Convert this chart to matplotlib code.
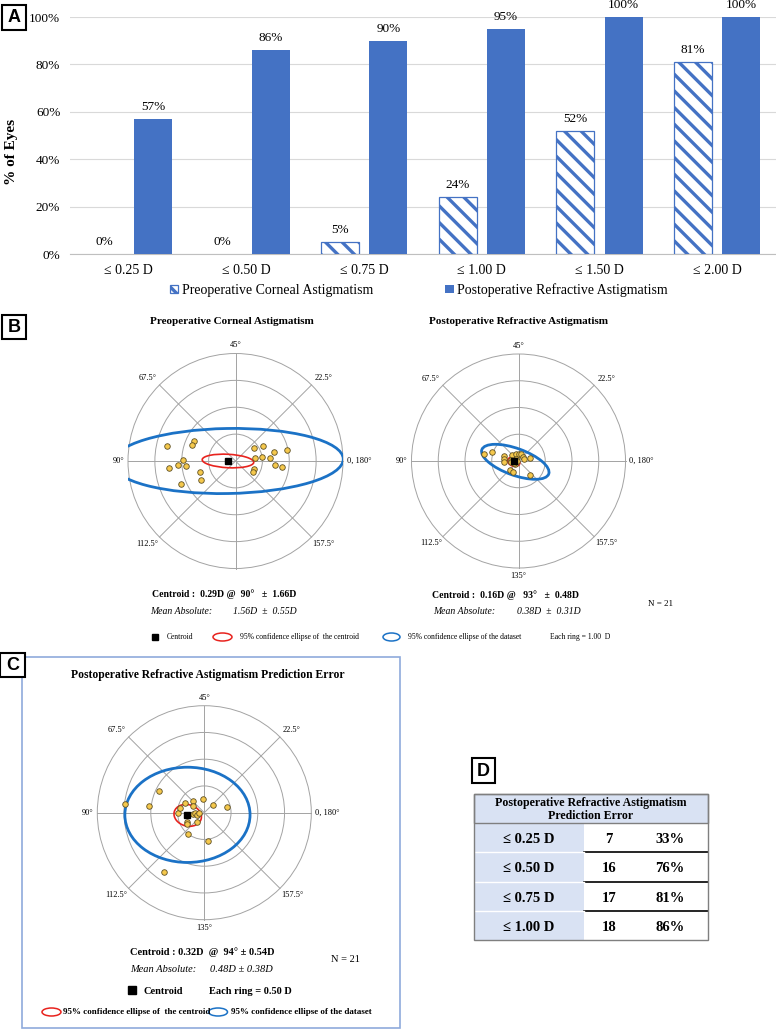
import numpy as np
import matplotlib
matplotlib.use("Agg")
import matplotlib.pyplot as plt
from matplotlib.patches import Rectangle, Circle, Ellipse

W, H = 776, 1030
BLUE = "#4472C4"
RED = "#E8231E"
ELL_BLUE = "#1B72C6"
GRID = "#a3a3a3"

# =============================================================================
# Data
# =============================================================================

# Panel A: cumulative % of eyes
CATEGORIES = ["≤ 0.25 D", "≤ 0.50 D", "≤ 0.75 D", "≤ 1.00 D", "≤ 1.50 D", "≤ 2.00 D"]
PREOP_PCT = [0, 0, 5, 24, 52, 81]
POSTOP_PCT = [57, 86, 90, 95, 100, 100]

# Panels B/C: double-angle vectors (x, y) in dioptres, one per eye
PRE_X = [-2.56, -1.54, -1.61, -2.47, -2.14, -1.96, -1.85, -1.32, -1.28, -2.03,
         0.68, 1.03, 1.43, 1.91, 0.72, 1.00, 1.30, 1.46, 1.73, 0.69, 0.65]
PRE_Y = [0.54, 0.75, 0.59, -0.25, -0.14, 0.03, -0.17, -0.40, -0.69, -0.85,
         0.47, 0.54, 0.33, 0.42, 0.11, 0.16, 0.11, -0.14, -0.22, -0.30, -0.40]

POST_X = [-1.28, -0.99, -0.54, -0.54, -0.56, -0.25, -0.10, 0.00, 0.09, 0.17, 0.20,
          0.44, -0.33, -0.22, 0.43, -0.12, -0.28, -0.10, -0.16, -0.27, -0.06]
POST_Y = [0.25, 0.33, 0.17, 0.06, -0.04, 0.21, 0.28, 0.28, 0.25, 0.15, 0.06,
          0.10, -0.35, -0.42, -0.54, -0.11, 0.05, 0.07, -0.07, -0.05, -0.01]

ERR_X = [-1.49, -1.03, -0.85, -0.37, -0.22, -0.02, 0.16, 0.43, -0.49, -0.46, -0.22,
         -0.21, -0.17, -0.13, -0.09, -0.14, -0.32, -0.32, -0.30, 0.06, -0.75]
ERR_Y = [0.17, 0.13, 0.41, 0.18, 0.21, 0.26, 0.14, 0.11, 0.00, 0.09, 0.13,
         -0.03, 0.00, -0.04, 0.00, -0.17, -0.17, -0.22, -0.39, -0.53, -1.10]

# centroids: (magnitude D, axis deg)
PRE_CENTROID = (0.29, 90)
POST_CENTROID = (0.16, 93)
ERR_CENTROID = (0.32, 94)

# ellipses: (cx, cy, semi-major, semi-minor, tilt deg)
PRE_DATA_ELL = (-0.29, 0.0, 4.30, 1.21, 1)
PRE_CENT_ELL = (-0.28, 0.0, 0.96, 0.25, -3)
POST_DATA_ELL = (-0.12, -0.03, 1.33, 0.50, -20)
POST_CENT_ELL = (-0.18, -0.03, 0.235, 0.163, -20)
ERR_DATA_ELL = (-0.315, -0.04, 1.17, 0.89, 0)
ERR_CENT_ELL = (-0.31, -0.05, 0.26, 0.20, -15)

ANGLE_LABELS = ["0, 180°", "22.5°", "45°", "67.5°", "90°", "112.5°", "135°", "157.5°"]

# Panel D table
D_THRESHOLDS = ["≤ 0.25 D", "≤ 0.50 D", "≤ 0.75 D", "≤ 1.00 D"]
D_COUNTS = [7, 16, 17, 18]
D_PCT = [33, 76, 81, 86]


def px_box(x0, y0, x1, y1):
    return [x0 / W, 1 - y1 / H, (x1 - x0) / W, (y1 - y0) / H]


plt.rcParams["font.family"] = ["Liberation Serif", "DejaVu Serif"]
plt.rcParams["hatch.linewidth"] = 2.4

fig = plt.figure(figsize=(W / 100, H / 100), dpi=100)

# overlay in pixel coords for free text / boxes
ov = fig.add_axes([0, 0, 1, 1])
ov.set_xlim(0, W)
ov.set_ylim(H, 0)
ov.axis("off")


def label_box(x0, y0, x1, y1, letter):
    ov.add_patch(Rectangle((x0, y0), x1 - x0, y1 - y0, fc="white", ec="black",
                           lw=1.5, zorder=10))
    ov.text((x0 + x1) / 2, (y0 + y1) / 2 + 0.5, letter, ha="center", va="center",
            family="Liberation Sans", fontweight="bold", fontsize=13, zorder=11)


# =============================================================================
# Panel A — bars
# =============================================================================

axA = fig.add_axes(px_box(70, 17, 776, 254))
x = np.arange(len(CATEGORIES))
bw, off = 0.325, 0.205
pre_bars = axA.bar(x - off, PREOP_PCT, bw, facecolor="white", edgecolor=BLUE,
                   hatch="\\\\", linewidth=[0 if v == 0 else 0.9 for v in PREOP_PCT],
                   zorder=3)
post_bars = axA.bar(x + off, POSTOP_PCT, bw, color=BLUE, zorder=3)
for xi, v in zip(x, PREOP_PCT):
    axA.text(xi - off, v + 2.5, f"{v}%", ha="center", va="bottom", fontsize=9.5)
for xi, v in zip(x, POSTOP_PCT):
    axA.text(xi + off, v + 2.5, f"{v}%", ha="center", va="bottom", fontsize=9.5)

axA.set_xlim(-0.5, len(CATEGORIES) - 0.5)
axA.set_ylim(0, 100)
axA.set_yticks(range(0, 101, 20))
axA.set_yticklabels([f"{t}%" for t in range(0, 101, 20)], fontsize=9.5)
axA.set_xticks(x)
axA.set_xticklabels(CATEGORIES, fontsize=10)
axA.tick_params(length=0, pad=7)
axA.tick_params(axis="x", pad=7)
axA.grid(axis="y", color="#d9d9d9", lw=0.8, zorder=0)
for s in ("top", "right", "left"):
    axA.spines[s].set_visible(False)
axA.spines["bottom"].set_color("#bfbfbf")

ov.text(12, 152, "% of Eyes", rotation=90, ha="center", va="center",
        fontweight="bold", fontsize=11)
fig.legend([pre_bars[3], post_bars[0]],
           ["Preoperative Corneal Astigmatism", "Postoperative Refractive Astigmatism"],
           loc="center", bbox_to_anchor=(419 / W, 1 - 290 / H), ncol=2, frameon=False,
           fontsize=10, handlelength=0.6, handleheight=0.6, handletextpad=0.25,
           columnspacing=5.2)
label_box(2, 5, 26, 30, "A")


# =============================================================================
# Panels B / C — double-angle plots
# =============================================================================

def draw_polar(ax, rmax, xs, ys, centroid, data_ell, cent_ell, show_135=True):
    ax.set_xlim(-rmax, rmax)
    ax.set_ylim(-rmax, rmax)
    ax.set_aspect("equal")
    ax.axis("off")
    for k in range(1, 5):
        ax.add_patch(Circle((0, 0), rmax * k / 4, fill=False, ec=GRID, lw=0.7,
                            clip_on=False))
    for deg in (0, 45, 90, 135):
        t = np.deg2rad(deg)
        ax.plot([-rmax * np.cos(t), rmax * np.cos(t)],
                [-rmax * np.sin(t), rmax * np.sin(t)],
                color=GRID, lw=0.7, clip_on=False)
    for i, lab in enumerate(ANGLE_LABELS):
        if i == 6 and not show_135:
            continue
        if i == 0:
            ax.text(1.035 * rmax, 0, lab, ha="left", va="center", fontsize=6)
        elif i == 4:
            ax.text(-1.035 * rmax, 0, lab, ha="right", va="center", fontsize=6)
        elif i in (2, 6):
            ax.text(0, 1.075 * rmax * (1 if i == 2 else -1), lab, ha="center",
                    va="center", fontsize=6)
        else:
            t = np.deg2rad(45 * i)
            ax.text(0.82 * rmax * np.sign(np.cos(t)), 0.77 * rmax * np.sign(np.sin(t)),
                    lab, ha="center", va="center", fontsize=6)
    for (cx, cy, a, b, ang), col, lw in ((data_ell, ELL_BLUE, 2.0), (cent_ell, RED, 1.2)):
        ax.add_patch(Ellipse((cx, cy), 2 * a, 2 * b, angle=ang, fill=False, ec=col,
                             lw=lw, zorder=3))
    ax.plot(xs, ys, "o", ms=4, mfc="#F5C84C", mec="#5e5024", mew=0.6, zorder=4)
    mag, axis = centroid
    ax.plot(mag * np.cos(np.deg2rad(2 * axis)), mag * np.sin(np.deg2rad(2 * axis)),
            "s", color="black", ms=4.5, zorder=5)


axB1 = fig.add_axes(px_box(128, 353.5, 343, 568.5))
draw_polar(axB1, 4.0, PRE_X, PRE_Y, PRE_CENTROID, PRE_DATA_ELL, PRE_CENT_ELL,
           show_135=False)
axB2 = fig.add_axes(px_box(411.5, 354, 625.5, 568))
draw_polar(axB2, 4.0, POST_X, POST_Y, POST_CENTROID, POST_DATA_ELL, POST_CENT_ELL)

label_box(2, 315, 26, 339, "B")
ov.text(232, 321, "Preoperative Corneal Astigmatism", ha="center", va="center",
        fontsize=8, fontweight="bold")
ov.text(518.5, 321, "Postoperative Refractive Astigmatism", ha="center", va="center",
        fontsize=8, fontweight="bold")

ov.text(152, 594, "Centroid :  0.29D @  90°   ±  1.66D", ha="left", va="center",
        fontsize=7, fontweight="bold")
ov.text(150, 611, "Mean Absolute:", ha="left", va="center", fontsize=7, style="italic")
ov.text(233, 611, "1.56D  ±  0.55D", ha="left", va="center", fontsize=7, style="italic")
ov.text(432, 595, "Centroid :  0.16D @   93°   ±  0.48D", ha="left", va="center",
        fontsize=7, fontweight="bold")
ov.text(433, 611, "Mean Absolute:", ha="left", va="center", fontsize=7, style="italic")
ov.text(517, 611, "0.38D  ±  0.31D", ha="left", va="center", fontsize=7, style="italic")
ov.text(648, 604, "N = 21", ha="left", va="center", fontsize=6.5)

# B legend row
ov.plot([155], [637], "s", color="black", ms=5)
ov.text(167, 637, "Centroid", ha="left", va="center", fontsize=5.5)
ov.add_patch(Ellipse((222.5, 637), 19, 8, fill=False, ec=RED, lw=1.1))
ov.text(240, 637, "95% confidence ellipse of  the centroid", ha="left", va="center",
        fontsize=5.5)
ov.add_patch(Ellipse((391.5, 637), 17, 8, fill=False, ec=ELL_BLUE, lw=1.1))
ov.text(408, 637, "95% confidence ellipse of the dataset", ha="left", va="center",
        fontsize=5.5)
ov.text(550, 637, "Each ring = 1.00  D", ha="left", va="center", fontsize=5.5)

# Panel C
ov.add_patch(Rectangle((22, 657), 378, 371, fill=False, ec="#8faadc", lw=1.2))
label_box(0, 653, 25, 677, "C")
ov.text(207.5, 675, "Postoperative Refractive Astigmatism Prediction Error",
        ha="center", va="center", fontsize=8.4, fontweight="bold")
axC = fig.add_axes(px_box(97.3, 705.7, 311.3, 919.7))
draw_polar(axC, 2.0, ERR_X, ERR_Y, ERR_CENTROID, ERR_DATA_ELL, ERR_CENT_ELL)

ov.text(130, 952, "Centroid : 0.32D  @  94° ± 0.54D", ha="left", va="center",
        fontsize=7.5, fontweight="bold")
ov.text(130, 969, "Mean Absolute:", ha="left", va="center", fontsize=7.5, style="italic")
ov.text(210, 969, "0.48D ± 0.38D", ha="left", va="center", fontsize=7.5, style="italic")
ov.text(331, 959, "N = 21", ha="left", va="center", fontsize=7.5)
ov.plot([131.5], [990], "s", color="black", ms=5.5)
ov.text(143, 991, "Centroid", ha="left", va="center", fontsize=7.5, fontweight="bold")
ov.text(209, 991, "Each ring = 0.50 D", ha="left", va="center", fontsize=7.5,
        fontweight="bold")
ov.add_patch(Ellipse((51.5, 1012), 19, 8, fill=False, ec=RED, lw=1.1))
ov.text(63, 1012, "95% confidence ellipse of  the centroid", ha="left", va="center",
        fontsize=6.5, fontweight="bold")
ov.add_patch(Ellipse((218, 1012), 19, 8, fill=False, ec=ELL_BLUE, lw=1.1))
ov.text(231, 1012, "95% confidence ellipse of the dataset", ha="left", va="center",
        fontsize=6.5, fontweight="bold")

# =============================================================================
# Panel D — table
# =============================================================================

label_box(472, 758, 495, 783, "D")
T_L, T_R, T_TOP, T_HDR, T_C1 = 474, 708, 794, 823, 584
ROW_H = 29.3
CELL_BG = "#D9E2F3"
n_rows = len(D_THRESHOLDS)
t_bot = T_HDR + ROW_H * n_rows
ov.add_patch(Rectangle((T_L, T_TOP), T_R - T_L, T_HDR - T_TOP, fc=CELL_BG,
                       ec="#7f7f7f", lw=1.0, zorder=2))
ov.add_patch(Rectangle((T_L, T_HDR), T_C1 - T_L, t_bot - T_HDR, fc=CELL_BG,
                       ec="none", zorder=1))
ov.add_patch(Rectangle((T_L, T_TOP), T_R - T_L, t_bot - T_TOP, fill=False,
                       ec="#7f7f7f", lw=1.0, zorder=3))
ov.text((T_L + T_R) / 2, 803, "Postoperative Refractive Astigmatism", ha="center",
        va="center", fontsize=8.6, fontweight="bold", zorder=4)
ov.text((T_L + T_R) / 2, 816, "Prediction Error", ha="center", va="center",
        fontsize=8.6, fontweight="bold", zorder=4)
for i, (lab, cnt, pct) in enumerate(zip(D_THRESHOLDS, D_COUNTS, D_PCT)):
    y0 = T_HDR + i * ROW_H
    yc = y0 + ROW_H / 2 + 2
    ov.text(529, yc, lab, ha="center", va="center", fontsize=10.5, fontweight="bold")
    ov.text(609, yc, str(cnt), ha="center", va="center", fontsize=10.5,
            fontweight="bold")
    ov.text(670, yc, f"{pct}%", ha="center", va="center", fontsize=10.5,
            fontweight="bold")
    if i < n_rows - 1:
        ov.plot([T_C1, T_R], [y0 + ROW_H, y0 + ROW_H], color="black", lw=1.2)
        ov.plot([T_L, T_C1], [y0 + ROW_H, y0 + ROW_H], color="white", lw=1.0)

fig.savefig("out.png", dpi=100)
